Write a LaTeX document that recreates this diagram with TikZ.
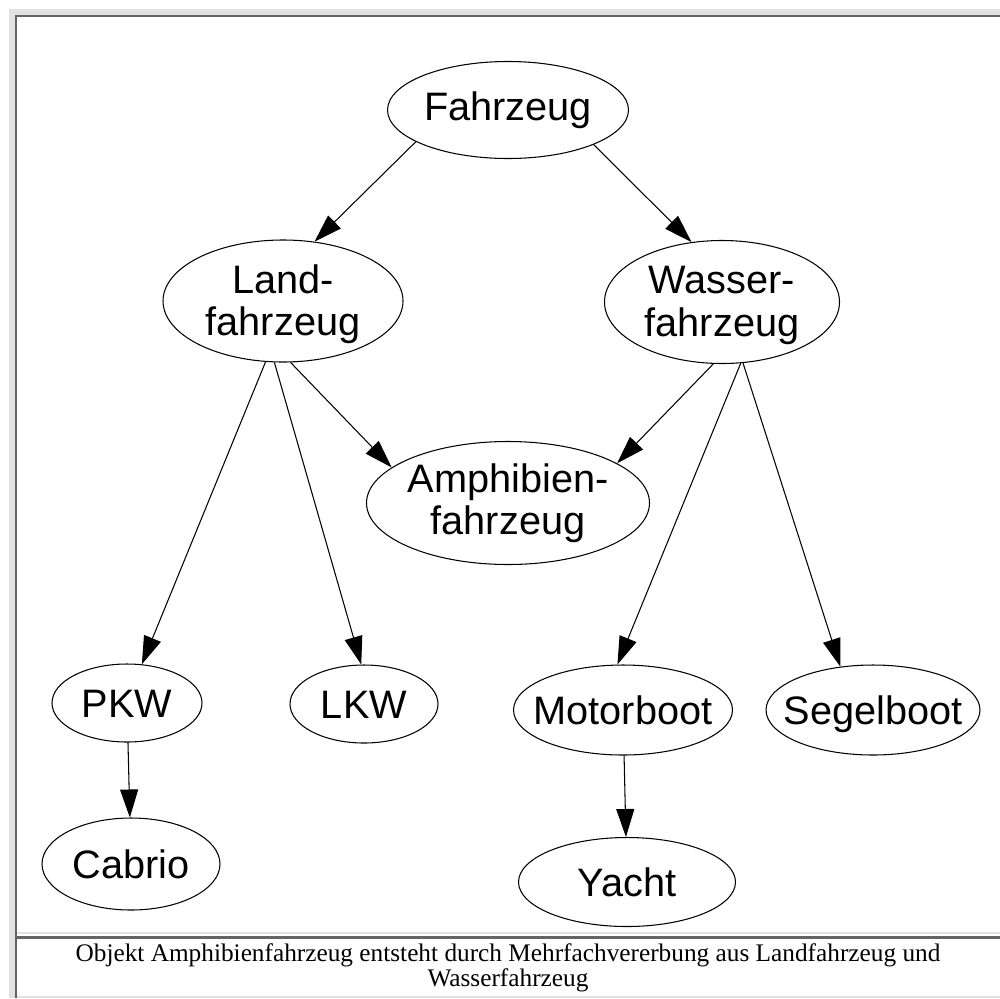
\documentclass[tikz,border=0pt]{standalone}
\usepackage{fontspec}
\setmainfont{Liberation Serif}
\newfontfamily\nodefont{Liberation Sans}
\usepackage{tikz}
\usetikzlibrary{arrows.meta, shapes.geometric}
\definecolor{framelight}{HTML}{E2E2E2}
\definecolor{framedark}{HTML}{646464}
\tikzset{
    obj/.style={draw, ellipse, line width=0.6pt, inner sep=0pt},
    objtext/.style={align=center, inner sep=0pt,
        font=\nodefont\fontsize{22.6}{24}\selectfont},
    oneline/.style={objtext, text height=16.2pt, text depth=0pt},
    twoline/.style={objtext, yshift=-0.07cm},
    sz/.style 2 args={minimum width=#1*0.02cm, minimum height=#2*0.02cm},
    link/.style={->, line width=0.6pt}
}

\begin{document}
\begin{tikzpicture}[x=0.02cm, y=-0.02cm, >={Triangle[length=0.56cm, width=0.36cm]}]

    \useasboundingbox (0,0) rectangle (1000,998);

    % Table frame round figure and caption
    \fill[white] (0,0) rectangle (1000,998);
    \fill[framelight] (9,9) rectangle (1000,14.5);
    \fill[framelight] (9,9) rectangle (15,998);
    \fill[framedark] (15,14.5) rectangle (1000,17);
    \fill[framedark] (15,14.5) rectangle (17,998);
    \fill[framelight] (17,931.5) rectangle (1000,933.5);
    \fill[framedark] (17,936) rectangle (1000,938.5);
    \fill[framelight] (17,996) rectangle (1000,998);

    % Nodes (ellipse sized by hand, name set in the middle)
    \node[obj, sz={241}{97}, label={[oneline, yshift=0.08cm]center:Fahrzeug}] (fz) at (508,110) {};
    \node[obj, sz={240}{122}, label={[twoline]center:{Land-\\fahrzeug}}] (lf) at (283,301) {};
    \node[obj, sz={235}{123}, label={[twoline]center:{Wasser-\\fahrzeug}}] (wf) at (722,302) {};
    \node[obj, sz={283}{123}, label={[objtext]center:{Amphibien-\\fahrzeug}}] (amph) at (508,503) {};
    \node[obj, sz={150}{78}, label={[oneline]center:PKW}] (pkw) at (127,703) {};
    \node[obj, sz={148}{78}, label={[oneline]center:LKW}] (lkw) at (364,704) {};
    \node[obj, sz={219}{90}, label={[oneline]center:Motorboot}] (mb) at (623,710) {};
    \node[obj, sz={214}{90}, label={[oneline]center:Segelboot}] (sb) at (873,710) {};
    \node[obj, sz={178}{92}, label={[oneline]center:Cabrio}] (cab) at (131,864) {};
    \node[obj, sz={217}{89}, label={[oneline]center:Yacht}] (ya) at (627,882) {};

    % Edges (inheritance)
    \draw[link] (fz.199) -- (lf.62);
    \draw[link] (fz.338) -- (wf.117);
    \draw[link] (lf.277) -- (amph.163);
    \draw[link] (wf.262) -- (amph.20);
    \draw[link] (lf.254) -- (pkw.69);
    \draw[link] (lf.262) -- (lkw.94);
    \draw[link] (wf.287) -- (mb.97);
    \draw[link] (wf.289) -- (sb.127);
    \draw[link] (pkw) -- (cab);
    \draw[link] (mb) -- (ya);

    % Caption
    \node[align=center, inner sep=0pt, font=\fontsize{14.4}{13.1}\selectfont] (cap) at (508,968)
        {Objekt Amphibienfahrzeug entsteht durch Mehrfachvererbung aus Landfahrzeug und\\Wasserfahrzeug};

\end{tikzpicture}
\end{document}
